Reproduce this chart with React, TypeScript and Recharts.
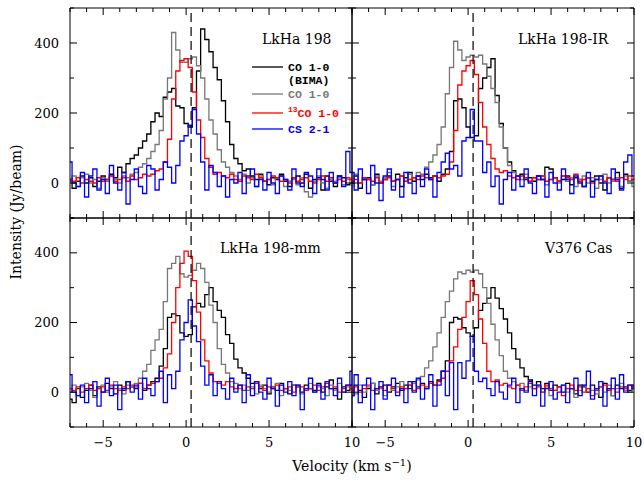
import React from 'react';
import { LineChart, Line, XAxis, YAxis, ReferenceLine, Legend } from 'recharts';

// channel grid (km/s) and systemic velocity
const channelWidth = 0.25;
const velocity = Array.from({ length: 69 }, (_, i) => -7 + i * channelWidth);
const vSys = 0.3;

const xTicks = [-7, -6, -5, -4, -3, -2, -1, 0, 1, 2, 3, 4, 5, 6, 7, 8, 9, 10];
const yTicks = [-100, 0, 100, 200, 300, 400, 500];

const seriesNames = ['CO 1-0 (BIMA)', 'CO 1-0', '13CO 1-0', 'CS 2-1'];
const seriesKeys = ['bima', 'co', 'c13', 'cs'];
const seriesColors = ['#000000', '#777777', '#ff0000', '#0000ff'];
const panelNames = ['LkHa 198', 'LkHa 198-IR', 'LkHa 198-mm', 'V376 Cas'];

// LkHa 198
const lkha198Bima = [
  10, -15, 5, 20, 0, 15, -10, 5, 20, 10, 25, 15, 45, 30, 55, 70,
  80, 100, 120, 140, 175, 200, 190, 245, 260, 270, 220, 215, 170, 160, 215, 320,
  440, 410, 375, 330, 295, 235, 175, 110, 70, 55, 35, 40, 20, 10, 25, 5,
  -5, 15, 10, 25, 5, -10, 15, 20, 0, 25, -15, 10, 15, -20, 20, 5,
  -10, 20, 15, -5, 0,
];
const lkha198Co = [
  5, 20, -10, 15, 25, 0, 10, -15, 15, 5, 20, 10, 0, 20, 15, 25,
  30, 45, 55, 70, 90, 110, 150, 240, 300, 430, 380, 345, 345, 355, 360, 335,
  300, 240, 180, 140, 95, 60, 45, 30, 20, 10, 25, 0, 15, -10, 20, 5,
  10, -5, 15, 20, -10, 5, 10, -5, 15, -25, -40, 5, 20, 0, -15, 10,
  5, 15, -5, 10, 0,
];
const lkha198C13 = [
  10, 5, 15, 0, 10, 5, 0, 15, 5, 10, 20, 5, 10, 15, 5, 20,
  10, 15, 25, 20, 25, 35, 40, 60, 125, 240, 320, 350, 355, 330, 260, 180,
  130, 70, 45, 25, 30, 20, 15, 25, 10, 5, 20, 15, 10, 25, 15, 5,
  10, 20, 15, 5, 10, 0, 15, 5, 10, 15, 5, 0, 10, 20, 5, 15,
  0, 10, 5, 15, 10,
];
const lkha198Cs = [
  60, 0, -10, 30, -40, 20, 40, -20, 10, -30, 50, 0, -20, 30, -60, 10,
  40, -10, -30, 50, 40, -20, 10, 60, 45, 0, 50, 120, 135, 165, 210, 140,
  60, -20, 50, 30, -10, 20, -40, 10, 0, 30, -30, 20, 40, -10, 10, -20,
  30, 0, -30, 20, 10, -20, 40, 0, -10, 30, 20, -30, 40, 10, -20, 30,
  0, 20, -10, 90, 30,
];

// LkHa 198-IR
const lkha198IrBima = [
  0, 20, -15, 10, 15, -5, 25, 0, 10, 20, 5, 25, -10, 15, 30, 5,
  20, 10, 25, 15, 20, 5, 25, 40, 90, 235, 240, 215, 160, 130, 135, 270,
  300, 330, 355, 250, 170, 100, 60, 35, 20, 25, 10, 15, 5, 20, 10, 45,
  40, 15, 5, 10, 20, -5, 15, 10, -10, 15, 5, 20, 0, -20, 15, 10,
  30, -15, 25, 5, 10,
];
const lkha198IrCo = [
  -10, 25, 0, 15, 10, -5, 20, 5, 15, 30, -10, 10, 20, 5, 25, 15,
  30, 25, 45, 60, 80, 110, 160, 255, 330, 405, 380, 350, 360, 365, 360, 365,
  340, 305, 270, 230, 160, 100, 50, 30, 20, 10, 25, 5, 15, 10, 20, -5,
  10, 15, 0, 20, 5, 15, -10, 10, 20, 0, 15, -15, 10, 25, 0, 5,
  15, -10, 20, 5, -10,
];
const lkha198IrC13 = [
  5, 10, 0, 15, 10, 5, 15, 0, 10, 15, 5, 10, 20, 5, 10, 15,
  10, 20, 15, 10, 20, 15, 20, 25, 60, 150, 280, 320, 335, 350, 310, 230,
  160, 110, 70, 40, 30, 35, 20, 15, 10, 20, 15, 5, 15, 10, 20, 5,
  10, 15, 5, 20, 15, 10, 25, 5, 10, 15, 0, 10, 20, 5, 15, 10,
  5, 15, 10, 20, 10,
];
const lkha198IrCs = [
  30, -20, 40, 10, -30, 50, 0, -50, 20, 40, -20, 10, -40, 30, 0, -30,
  20, -10, 40, 10, -40, 30, 60, 85, 40, 50, 20, 120, 130, 210, 120, 120,
  30, 60, -10, 20, -60, 10, 30, -20, 20, -10, 40, 0, -30, 20, 10, -40,
  30, 0, -20, 40, 10, -30, 20, 0, -10, 30, -40, 10, 20, 0, -30, 40,
  10, -20, 60, 80, 20,
];

// LkHa 198-mm
const lkha198MmBima = [
  -20, -30, 10, -15, 5, 20, -10, 15, 0, 25, 10, -5, 20, 5, 30, 15,
  10, 25, 5, 20, 30, 40, 75, 125, 215, 225, 220, 170, 160, 165, 245, 255,
  245, 280, 300, 260, 235, 215, 165, 140, 95, 70, 55, 40, 25, 30, 10, 20,
  -5, 15, 5, 25, 10, -5, 20, 15, 0, 20, 10, 5, 25, 0, 15, 35,
  10, -20, 15, 5, 20,
];
const lkha198MmCo = [
  0, 20, -10, 15, 25, 5, -15, 10, 20, 0, 15, 30, 10, -5, 20, 15,
  25, 40, 60, 80, 120, 150, 180, 260, 355, 370, 390, 340, 330, 335, 350, 370,
  355, 315, 250, 200, 125, 80, 55, 30, 25, 10, 20, 5, 15, -5, 20, 10,
  0, 15, 25, -10, 10, 5, 20, 15, -5, 10, 25, 0, 15, 10, -10, 20,
  5, 25, 0, 15, 10,
];
const lkha198MmC13 = [
  10, 5, 15, 0, 10, 20, 5, 10, 15, 5, 20, 10, 5, 15, 10, 20,
  15, 25, 10, 20, 25, 30, 40, 70, 110, 200, 300, 370, 405, 390, 320, 230,
  150, 90, 55, 30, 25, 20, 30, 15, 10, 20, 5, 15, 10, 25, 15, 5,
  15, 10, 20, 5, 10, 15, 0, 20, 15, 5, 10, 20, 5, 15, 25, 10,
  15, 0, 10, 20, 10,
];
const lkha198MmCs = [
  50, 0, -10, 20, -30, 10, 30, -40, 0, 40, -10, 20, -50, 10, 30, 0,
  20, -20, 40, 10, -10, 30, 60, -30, 50, 10, 60, 150, 200, 265, 190, 145,
  75, 20, 50, -10, 30, 10, -20, 40, 0, 20, -30, 50, -10, 30, 0, -20,
  40, 10, -40, 20, 0, 30, -10, 20, -50, 10, 40, 0, 20, -20, 30, 10,
  -10, 40, 0, 20, 60,
];

// V376 Cas
const v376Bima = [
  -10, 20, 5, -15, 10, 25, -5, 15, 20, 0, 15, 25, 5, 20, 10, 30,
  15, 25, 10, 30, 20, 35, 60, 90, 200, 215, 210, 185, 170, 160, 185, 235,
  255, 270, 300, 270, 240, 210, 170, 125, 95, 70, 45, 35, 20, 30, 10, 25,
  5, 20, 15, 0, 25, 10, -5, 20, 15, 0, 20, 10, -15, 25, 5, -10,
  20, 10, 15, 5, 20,
];
const v376Co = [
  10, -5, 20, 0, 15, 25, 5, 10, -10, 20, 5, 15, 30, 10, 20, 25,
  35, 45, 70, 90, 130, 170, 215, 260, 290, 325, 345, 340, 350, 345, 350, 340,
  300, 255, 195, 150, 105, 60, 40, 30, 20, 25, 5, 15, 10, 20, 0, 15,
  -10, 5, 15, 20, 0, 10, -15, 5, 20, 10, 5, -5, 15, 0, 20, -10,
  10, 25, 5, 0, 15,
];
const v376C13 = [
  5, 15, 0, 10, 20, 5, 10, 15, 5, 20, 10, 0, 15, 10, 20, 5,
  10, 20, 15, 25, 20, 30, 40, 60, 90, 130, 180, 215, 260, 320, 280, 210,
  140, 60, 30, 35, 20, 25, 15, 10, 20, 5, 15, 25, 10, 15, 0, 20,
  10, 5, 15, -10, 10, 20, 5, 15, 0, 10, -10, 5, 15, 20, 5, 10,
  0, 15, 10, 20, 15,
];
const v376Cs = [
  -10, 50, -30, 20, 40, -50, 10, 30, -20, 20, 40, -10, 10, -30, 30, 0,
  40, -20, 10, 50, -40, 20, 60, -10, 85, -50, 85, 40, 90, 160, 60, 30,
  40, 10, -10, 30, 0, -20, 20, 40, -30, 10, 0, 30, -10, 20, -40, 10,
  30, -20, 0, 20, -30, 10, 40, -10, 20, 60, -20, 10, 30, -40, 10, 40,
  -20, 50, 0, 20, 10,
];

const panelSeries = [
  [lkha198Bima, lkha198Co, lkha198C13, lkha198Cs],
  [lkha198IrBima, lkha198IrCo, lkha198IrC13, lkha198IrCs],
  [lkha198MmBima, lkha198MmCo, lkha198MmC13, lkha198MmCs],
  [v376Bima, v376Co, v376C13, v376Cs],
];

// layout of the four panels (page pixels)
const W = 644;
const H = 482;
const panelW = 282;
const panels = [
  { left: 70, top: 8, height: 210, labelX: 262, labelY: 44, yLabels: true, xLabels: false },
  { left: 352, top: 8, height: 210, labelX: 518, labelY: 44, yLabels: false, xLabels: false },
  { left: 70, top: 218, height: 209, labelX: 220, labelY: 253, yLabels: true, xLabels: true },
  { left: 352, top: 218, height: 209, labelX: 545, labelY: 253, yLabels: false, xLabels: true },
];

const serif = '"DejaVu Serif", "Liberation Serif", serif';
const mono = '"Liberation Mono", "DejaVu Sans Mono", monospace';

const fmt = (v: number) => (v < 0 ? `\u2212${-v}` : `${v}`);

function xTick(side: 'top' | 'bottom', showLabel: boolean) {
  return (props: any) => {
    const { x, y, payload } = props;
    const v = Number(payload.value);
    const major = v % 5 === 0;
    const len = major ? 7 : 4;
    const y2 = side === 'bottom' ? y - len : y + len;
    return (
      <g>
        <line x1={x} y1={y} x2={x} y2={y2} stroke="#000" strokeWidth={1} />
        {showLabel && major ? (
          <text x={x} y={y + 20} textAnchor="middle" fontFamily={serif} fontSize={13} fill="#000">
            {fmt(v)}
          </text>
        ) : null}
      </g>
    );
  };
}

function yTick(side: 'left' | 'right', showLabel: boolean) {
  return (props: any) => {
    const { x, y, payload } = props;
    const v = Number(payload.value);
    const major = v % 200 === 0;
    const len = major ? 7 : 4;
    const x2 = side === 'left' ? x + len : x - len;
    return (
      <g>
        <line x1={x} y1={y} x2={x2} y2={y} stroke="#000" strokeWidth={1} />
        {showLabel && major ? (
          <text x={x - 11} y={y + 4.5} textAnchor="end" fontFamily={serif} fontSize={13} fill="#000">
            {fmt(v)}
          </text>
        ) : null}
      </g>
    );
  };
}

// row centres of the legend entries, relative to its box
const legendRows = [6, 33, 52, 68];

function LegendContent(props: any) {
  const payload = props.payload || [];
  const textStyle: React.CSSProperties = {
    position: 'absolute',
    left: 36,
    whiteSpace: 'nowrap',
    fontFamily: mono,
    fontWeight: 'bold',
    fontSize: 11.5,
    lineHeight: '11px',
  };
  return (
    <div style={{ position: 'relative', width: 110, height: 80 }}>
      {payload.map((entry: any) => {
        const name = String(entry.value);
        const i = seriesNames.indexOf(name);
        const color = seriesColors[i];
        const c = legendRows[i];
        let text: React.ReactNode;
        if (name.includes('(BIMA)')) {
          text = (
            <>
              <div style={{ ...textStyle, top: -5, color }}>{name.replace(' (BIMA)', '')}</div>
              <div style={{ ...textStyle, top: 8, color }}>(BIMA)</div>
            </>
          );
        } else if (name.startsWith('13')) {
          text = (
            <div style={{ ...textStyle, top: -5, color }}>
              <span style={{ fontSize: 8, position: 'relative', top: -5 }}>13</span>
              {name.slice(2)}
            </div>
          );
        } else {
          text = <div style={{ ...textStyle, top: -5, color }}>{name}</div>;
        }
        return (
          <div key={name} style={{ position: 'absolute', left: 0, top: c, width: 110 }}>
            <svg width={32} height={4} style={{ position: 'absolute', left: 0, top: -2 }}>
              <line x1={0} y1={2} x2={31} y2={2} stroke={color} strokeWidth={1.3} />
            </svg>
            {text}
          </div>
        );
      })}
    </div>
  );
}

function Panel({ index }: { index: number }) {
  const p = panels[index];
  const series = panelSeries[index];
  const rows = velocity.map((v, i) => {
    const row: Record<string, number> = { v };
    seriesKeys.forEach((k, s) => {
      row[k] = series[s][i];
    });
    return row;
  });
  // each axis takes 1px outside the plot box
  const margin = {
    top: p.top - 1,
    left: p.left - 1,
    right: W - p.left - panelW - 1,
    bottom: H - p.top - p.height - 1,
  };
  const axisLine = { stroke: '#000', strokeWidth: 1 };
  return (
    <div style={{ position: 'absolute', left: 0, top: 0 }}>
      <LineChart width={W} height={H} data={rows} margin={margin}>
        <XAxis
          xAxisId="b"
          dataKey="v"
          type="number"
          domain={[-7, 10]}
          ticks={xTicks}
          interval={0}
          height={1}
          tickSize={0}
          tickMargin={0}
          tickLine={false}
          axisLine={axisLine}
          tick={xTick('bottom', p.xLabels)}
          allowDataOverflow
        />
        <XAxis
          xAxisId="t"
          orientation="top"
          dataKey="v"
          type="number"
          domain={[-7, 10]}
          ticks={xTicks}
          interval={0}
          height={1}
          tickSize={0}
          tickMargin={0}
          tickLine={false}
          axisLine={axisLine}
          tick={xTick('top', false)}
          allowDataOverflow
        />
        <YAxis
          yAxisId="l"
          type="number"
          domain={[-100, 500]}
          ticks={yTicks}
          interval={0}
          width={1}
          tickSize={0}
          tickMargin={0}
          tickLine={false}
          axisLine={axisLine}
          tick={yTick('left', p.yLabels)}
          allowDataOverflow
        />
        <YAxis
          yAxisId="r"
          orientation="right"
          type="number"
          domain={[-100, 500]}
          ticks={yTicks}
          interval={0}
          width={1}
          tickSize={0}
          tickMargin={0}
          tickLine={false}
          axisLine={axisLine}
          tick={yTick('right', false)}
          allowDataOverflow
        />
        {seriesKeys.map((k, s) => (
          <Line
            key={k}
            xAxisId="b"
            yAxisId="l"
            dataKey={k}
            name={seriesNames[s]}
            type="step"
            stroke={seriesColors[s]}
            strokeWidth={1.3}
            dot={false}
            activeDot={false}
            isAnimationActive={false}
          />
        ))}
        <ReferenceLine xAxisId="b" yAxisId="l" x={vSys} stroke="#000" strokeWidth={1.2} strokeDasharray="9 5" />
        {index === 0 ? (
          <Legend
            layout="vertical"
            align="center"
            verticalAlign="middle"
            width={110}
            height={80}
            wrapperStyle={{ left: 252, top: 61 }}
            content={LegendContent}
          />
        ) : null}
      </LineChart>
    </div>
  );
}

export default function App() {
  return (
    <div style={{ position: 'absolute', left: 0, top: 0, width: W, height: H, background: '#fff', overflow: 'hidden' }}>
      {panels.map((_, i) => (
        <Panel key={i} index={i} />
      ))}
      <svg width={W} height={H} style={{ position: 'absolute', left: 0, top: 0, pointerEvents: 'none' }}>
        <text
          transform="translate(21,212) rotate(-90)"
          textAnchor="middle"
          fontFamily={serif}
          fontSize={14}
          fill="#000"
        >
          Intensity (Jy/beam)
        </text>
        <text x={352} y={471} textAnchor="middle" fontFamily={serif} fontSize={14} fill="#000">
          Velocity (km s<tspan dy={-5} fontSize={10}>{'\u22121'}</tspan>
          <tspan dy={5}>)</tspan>
        </text>
        {panels.map((p, i) => (
          <text key={i} x={p.labelX} y={p.labelY} fontFamily={serif} fontSize={14} fill="#000">
            {panelNames[i]}
          </text>
        ))}
      </svg>
    </div>
  );
}
